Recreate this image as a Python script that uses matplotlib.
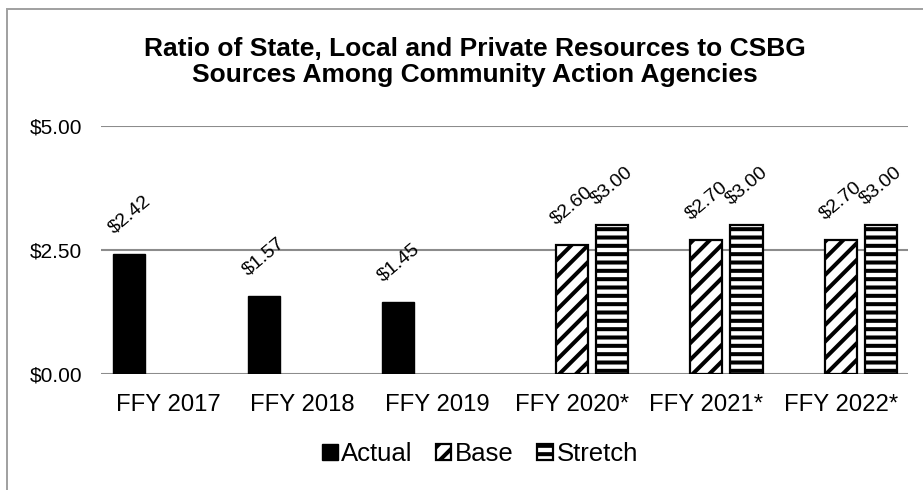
import matplotlib
matplotlib.use("Agg")
import matplotlib.pyplot as plt
import numpy as np
from matplotlib.patches import Rectangle

categories = ["FFY 2017", "FFY 2018", "FFY 2019", "FFY 2020*", "FFY 2021*", "FFY 2022*"]
actual = [2.42, 1.57, 1.45, None, None, None]
base = [None, None, None, 2.60, 2.70, 2.70]
stretch = [None, None, None, 3.00, 3.00, 3.00]

plt.rcParams['font.family'] = ['Liberation Sans', 'DejaVu Sans']
plt.rcParams['hatch.linewidth'] = 2.9
plt.rcParams['hatch.color'] = 'black'

fig = plt.figure(figsize=(9.23, 4.9), dpi=100)
ax = fig.add_axes([101/923, 1-374/490, 807/923, 248/490])

x = np.arange(len(categories))
w = 0.24
offs = [-0.29, 0.0, 0.30]

def draw(vals, off, **kw):
    xs = [xi + off for xi, v in zip(x, vals) if v is not None]
    vs = [v for v in vals if v is not None]
    bars = ax.bar(xs, vs, width=w, zorder=3, **kw)
    for b, v in zip(bars, vs):
        ax.annotate(f"${v:.2f}", (b.get_x() + b.get_width()/2, v),
                    xytext=(0, 28.5), textcoords='offset points',
                    rotation=40, ha='center', va='center', fontsize=14)
    return bars

draw(actual, offs[0], color='black', edgecolor='black', label='Actual')
draw(base, offs[1], facecolor='white', edgecolor='black', hatch='//', linewidth=1.6, label='Base')
draw(stretch, offs[2], facecolor='white', edgecolor='black', hatch='--', linewidth=1.6, label='Stretch')

ax.set_xlim(-0.5, 5.5)
ax.set_ylim(0, 5)
ax.set_yticks([0, 2.5, 5])
ax.set_yticklabels(["$0.00", "$2.50", "$5.00"])
ax.set_xticks(x)
ax.set_xticklabels(categories)
ax.tick_params(axis='both', length=0)
ax.tick_params(axis='x', labelsize=17.2, pad=14.5)
ax.tick_params(axis='y', labelsize=15, pad=13.5)
ax.yaxis.grid(True, color='#8c8c8c', linewidth=1.5, zorder=0)
for s in ax.spines.values():
    s.set_visible(False)

fig.text(475/923, 1-62/490, "Ratio of State, Local and Private Resources to CSBG\nSources Among Community Action Agencies",
         ha='center', va='center', fontsize=19, fontweight='bold', linespacing=1.08)

handles, labels = ax.get_legend_handles_labels()
leg = fig.legend(handles, labels, loc='center', bbox_to_anchor=(480/923, 1-454/490), ncol=3,
                 frameon=False, fontsize=18.5, handlelength=0.6, handleheight=0.6,
                 handletextpad=0.15, columnspacing=0.9)

fig.patches.append(Rectangle((7/923, -0.1), 1.2, 1.1 - 9/490, transform=fig.transFigure,
                             fill=False, edgecolor='#a0a0a0', linewidth=1.4))

fig.savefig("out.png", dpi=100)
